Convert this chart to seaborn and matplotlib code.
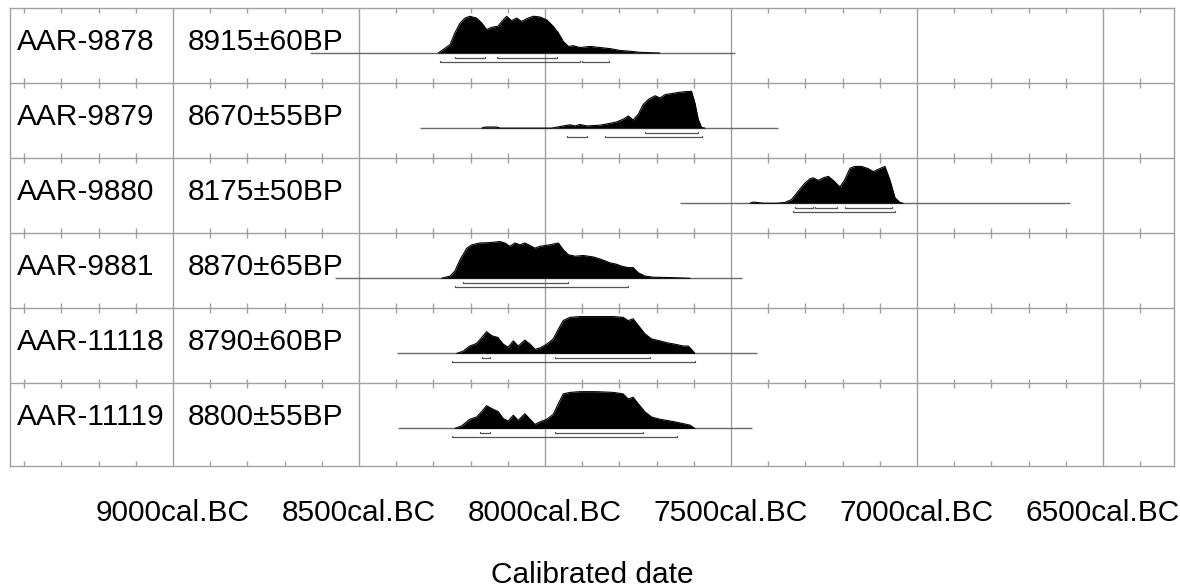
import numpy as np
import pandas as pd
import matplotlib
matplotlib.use("Agg")
import matplotlib.pyplot as plt
import matplotlib.transforms as mtransforms
import seaborn as sns

# sample labels
lab_codes = ["AAR-9878", "AAR-9879", "AAR-9880", "AAR-9881", "AAR-11118", "AAR-11119"]
bp_dates = ["8915±60BP", "8670±55BP", "8175±50BP", "8870±65BP", "8790±60BP", "8800±55BP"]

# calibrated probability curves (year cal. BC, relative probability)
years_9878 = [8287, 8273, 8255, 8242, 8228, 8215, 8202, 8184, 8170, 8157, 8143, 8126, 8116, 8103, 8090, 8076, 8063, 8045,
              8031, 8013, 7995, 7978, 7964, 7951, 7937, 7924, 7906, 7879, 7852, 7825, 7798, 7772, 7745, 7718, 7691]
prob_9878 = [0, 0.1, 0.23, 0.55, 0.82, 0.95, 1.0, 0.95, 0.82, 0.64, 0.7, 0.73, 0.86, 1.0, 0.88, 0.95, 0.86, 0.95,
             1.0, 0.98, 0.9, 0.73, 0.55, 0.32, 0.18, 0.2, 0.15, 0.18, 0.15, 0.12, 0.07, 0.05, 0.02, 0.01, 0]

years_9879 = [8170, 8160, 8130, 8120, 7982, 7951, 7933, 7919, 7906, 7888, 7852, 7825, 7807, 7790, 7776, 7763, 7749, 7736,
              7722, 7704, 7691, 7677, 7659, 7642, 7624, 7606, 7597, 7588, 7579, 7570]
prob_9879 = [0, 0.03, 0.03, 0, 0, 0.06, 0.09, 0.06, 0.1, 0.06, 0.08, 0.13, 0.17, 0.24, 0.33, 0.22, 0.38, 0.64,
             0.78, 0.88, 0.82, 0.91, 0.94, 0.97, 0.99, 1.0, 0.69, 0.24, 0.02, 0]

years_9880 = [7449, 7440, 7431, 7413, 7377, 7355, 7337, 7319, 7301, 7288, 7279, 7265, 7252, 7238, 7225, 7207, 7194, 7180,
              7167, 7149, 7131, 7117, 7100, 7086, 7073, 7059, 7046, 7037]
prob_9880 = [0, 0.03, 0.02, 0, 0, 0.02, 0.1, 0.33, 0.55, 0.66, 0.69, 0.62, 0.69, 0.73, 0.62, 0.44, 0.64, 0.95,
             1.0, 1.0, 0.94, 0.86, 0.94, 1.0, 0.64, 0.15, 0.02, 0]

years_9881 = [8278, 8255, 8242, 8228, 8210, 8197, 8175, 8148, 8121, 8108, 8094, 8081, 8067, 8054, 8040, 8027, 8013, 7987,
              7964, 7951, 7937, 7919, 7897, 7870, 7848, 7825, 7807, 7794, 7776, 7763, 7749, 7731, 7709, 7664, 7610]
prob_9881 = [0, 0.06, 0.2, 0.51, 0.82, 0.91, 0.96, 0.97, 1.0, 0.96, 0.87, 0.96, 0.91, 0.96, 0.89, 0.82, 0.87, 0.91,
             0.96, 0.78, 0.64, 0.6, 0.62, 0.58, 0.51, 0.42, 0.38, 0.33, 0.29, 0.29, 0.15, 0.06, 0.03, 0.02, 0]

years_11118 = [8237, 8220, 8202, 8184, 8170, 8157, 8143, 8126, 8112, 8099, 8085, 8072, 8054, 8040, 8027, 8013, 7995, 7978,
               7964, 7951, 7933, 7906, 7861, 7816, 7790, 7776, 7763, 7749, 7731, 7713, 7691, 7673, 7651, 7628, 7615, 7606, 7597]
prob_11118 = [0, 0.06, 0.2, 0.27, 0.43, 0.59, 0.48, 0.43, 0.25, 0.17, 0.34, 0.2, 0.36, 0.25, 0.11, 0.15, 0.25, 0.39,
              0.66, 0.89, 0.98, 1.0, 1.0, 1.0, 0.98, 0.89, 0.94, 0.76, 0.53, 0.39, 0.34, 0.29, 0.25, 0.2, 0.2, 0.11, 0]

years_11119 = [8242, 8224, 8202, 8184, 8170, 8157, 8143, 8126, 8112, 8099, 8085, 8072, 8054, 8040, 8027, 8013, 7995, 7978,
               7964, 7951, 7933, 7906, 7861, 7816, 7790, 7776, 7763, 7749, 7731, 7713, 7691, 7673, 7651, 7628, 7610, 7597]
prob_11119 = [0, 0.07, 0.25, 0.31, 0.46, 0.62, 0.54, 0.46, 0.27, 0.2, 0.36, 0.22, 0.4, 0.25, 0.11, 0.18, 0.25, 0.38,
              0.67, 0.94, 0.98, 1.0, 1.0, 0.98, 0.94, 0.8, 0.85, 0.67, 0.45, 0.31, 0.25, 0.22, 0.18, 0.13, 0.09, 0]

curve_years = [years_9878, years_9879, years_9880, years_9881, years_11118, years_11119]
curve_probs = [prob_9878, prob_9879, prob_9880, prob_9881, prob_11118, prob_11119]

# extent of the thin baseline under each curve
base_from = [8632, 8336, 7637, 8564, 8398, 8395]
base_to = [7489, 7374, 6589, 7471, 7430, 7444]

# 68.2% and 95.4% ranges
range_68 = [[(8242, 8161), (8129, 7968)],
            [(7731, 7589)],
            [(7328, 7280), (7274, 7215), (7194, 7067)],
            [(8220, 7938)],
            [(8170, 8148), (7973, 7718)],
            [(8175, 8148), (7973, 7736)]]
range_95 = [[(8282, 7906), (7901, 7828)],
            [(7941, 7887), (7839, 7578)],
            [(7333, 7059)],
            [(8242, 7777)],
            [(8251, 7597)],
            [(8251, 7646)]]

major_ticks = [9000, 8500, 8000, 7500, 7000, 6500]
tick_labels = [str(y) + "cal.BC" for y in major_ticks]
x_left, x_right = 9438, 6309

sns.set_style("white")
plt.rcParams['font.family'] = ['Liberation Sans', 'DejaVu Sans']
plt.rcParams['text.color'] = 'black'
plt.rcParams['xtick.color'] = 'black'
plt.rcParams['axes.labelcolor'] = 'black'

fig = plt.figure(figsize=(11.8, 5.88), dpi=100)
ax = fig.add_axes([10/1180, 1 - 466/588, 1164/1180, 458/588])

n = len(lab_codes)
bottom = n + 0.1
peak_h = 0.49
grey = "#a0a0a0"

# long table of the curves for seaborn
frames = []
for i in range(n):
    base = i + 0.6
    frames.append(pd.DataFrame({
        "year": curve_years[i],
        "y": base - np.array(curve_probs[i]) * peak_h,
        "sample": lab_codes[i],
    }))
df = pd.concat(frames, ignore_index=True)

# grid, row separators and minor ticks
for yr in major_ticks:
    ax.axvline(yr, color=grey, lw=1.0, zorder=0)
for i in range(1, n):
    ax.axhline(i, color=grey, lw=1.0, zorder=0)
minor = [y for y in range(9400, 6300, -100) if y % 500 != 0]
tk = 0.065
for i in range(n + 1):
    yb = i if i < n else bottom
    ax.vlines(minor, yb - tk, yb + tk, color=grey, lw=1.0, zorder=0)

for i in range(n):
    base = i + 0.6
    ax.hlines(base, base_from[i], base_to[i], color="#6a6a6a", lw=1.0, zorder=2)
    ax.fill_between(curve_years[i], base, base - np.array(curve_probs[i]) * peak_h,
                    color="black", lw=0, zorder=3)
    for (a, b) in range_68[i]:
        yy = base + 0.067
        ax.plot([a, a, b, b], [yy - 0.02, yy, yy, yy - 0.02], color="#555555", lw=0.9, zorder=2)
    for (a, b) in range_95[i]:
        yy = base + 0.12
        ax.plot([a, a, b, b], [yy - 0.02, yy, yy, yy - 0.02], color="#555555", lw=0.9, zorder=2)

sns.lineplot(data=df, x="year", y="y", units="sample", estimator=None, sort=False,
             color="black", lw=0.8, ax=ax, legend=False, zorder=4)

# row labels
trans = mtransforms.blended_transform_factory(ax.transAxes, ax.transData)
for i in range(n):
    ax.text(0.006, i + 0.56, lab_codes[i], transform=trans, fontsize=21.5, va="baseline", ha="left", zorder=5)
    ax.text(0.153, i + 0.56, bp_dates[i], transform=trans, fontsize=21.5, va="baseline", ha="left", zorder=5)

ax.set_xlim(x_left, x_right)
ax.set_ylim(bottom, 0)
ax.set_yticks([])
ax.set_ylabel("")
ax.set_xticks(major_ticks)
ax.set_xticklabels(tick_labels, fontsize=21.5)
ax.tick_params(axis="x", length=0, pad=24)
ax.set_xlabel("Calibrated date", fontsize=21.5)
ax.xaxis.set_label_coords(0.5, -0.208)
for s in ax.spines.values():
    s.set_color(grey)
    s.set_linewidth(1.0)

plt.savefig("out.png", dpi=100)
plt.close()
